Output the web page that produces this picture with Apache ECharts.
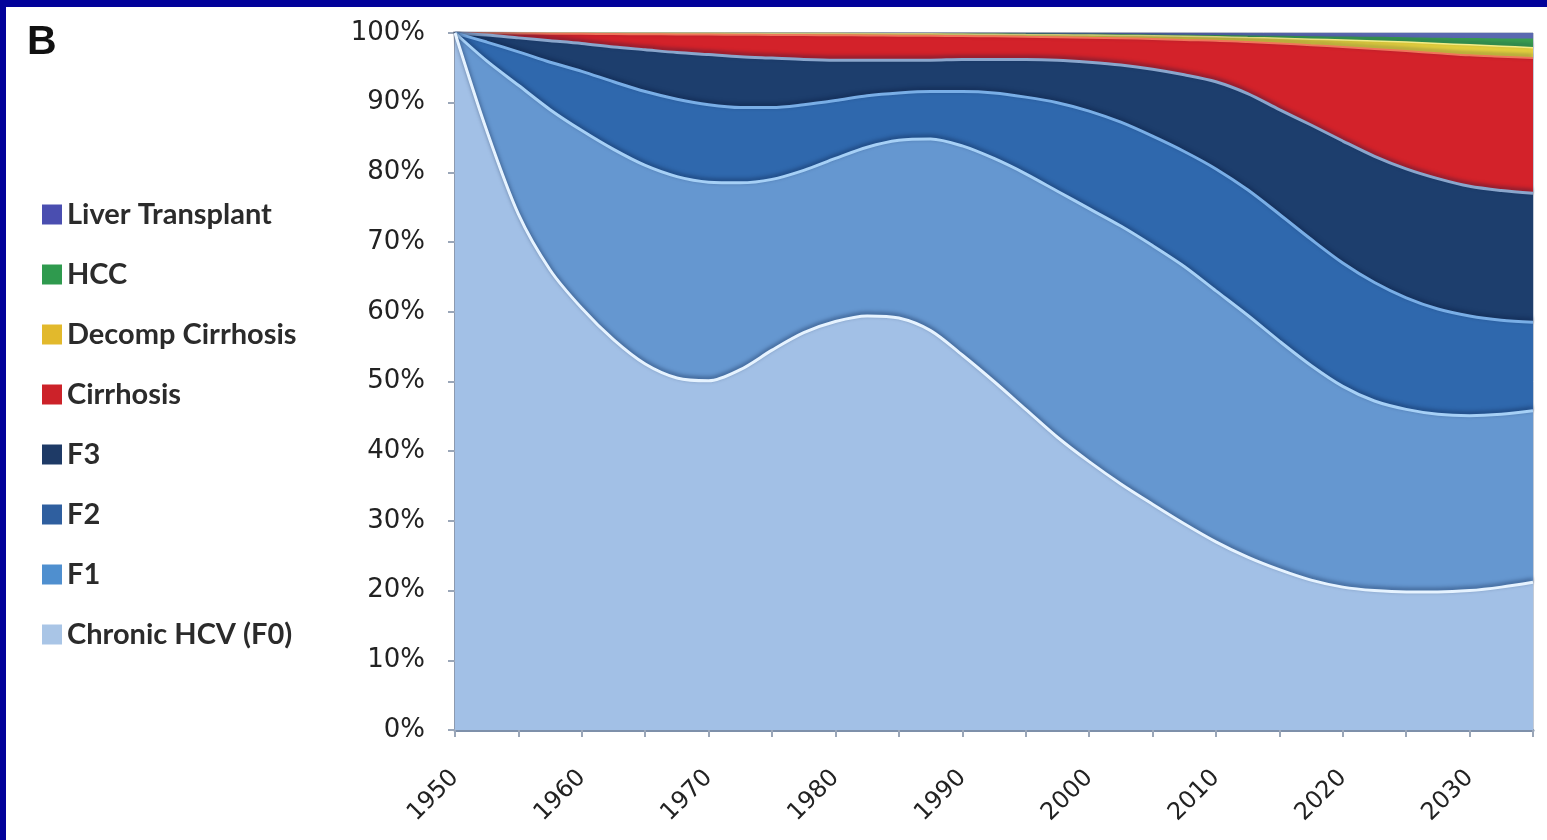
<!DOCTYPE html>
<html>
<head>
<meta charset="utf-8">
<title>HCV fibrosis stage distribution</title>
<script src="https://cdn.jsdelivr.net/npm/echarts@6/dist/echarts.min.js"></script>
<style>
  html, body { margin: 0; padding: 0; background: #ffffff; }
  #chart { width: 1547px; height: 840px; }
</style>
</head>
<body>
<div id="chart"></div>
<script>
// Years on the horizontal axis (2.5-year steps; ticks every 5, labels every 10)
const years = ['1950', '1952.5', '1955', '1957.5', '1960', '1962.5', '1965', '1967.5',
               '1970', '1972.5', '1975', '1977.5', '1980', '1982.5', '1985', '1987.5',
               '1990', '1992.5', '1995', '1997.5', '2000', '2002.5', '2005', '2007.5',
               '2010', '2012.5', '2015', '2017.5', '2020', '2022.5', '2025', '2027.5',
               '2030', '2032.5', '2035'];

// Upper edge of each band in the 100% stack (cumulative share, %)
const topF0         = [100, 86, 74, 66, 60.5, 56, 52.5, 50.5, 50.1, 51.7, 54.5, 57, 58.6, 59.4, 59.1, 57.3, 53.8, 50,
                       46, 42, 38.5, 35.3, 32.4, 29.6, 27, 24.8, 23, 21.5, 20.5, 20, 19.8, 19.8, 20, 20.5, 21.2];
const topF1         = [100, 96, 92.5, 89, 86, 83.3, 81, 79.4, 78.6, 78.5, 79, 80.3, 82, 83.6, 84.6, 84.8, 83.8, 82,
                       79.8, 77.3, 74.8, 72.3, 69.5, 66.5, 63, 59.5, 55.8, 52.3, 49.3, 47.2, 46, 45.3, 45.1, 45.3, 45.8];
const topF2         = [100, 98.7, 97.3, 95.8, 94.5, 93, 91.6, 90.5, 89.7, 89.3, 89.3, 89.7, 90.3, 91, 91.4, 91.6, 91.6, 91.4,
                       90.8, 90, 88.8, 87.2, 85.2, 83, 80.5, 77.5, 74, 70.4, 67, 64.2, 62, 60.4, 59.4, 58.8, 58.5];
const topF3         = [100, 99.7, 99.3, 98.9, 98.5, 98, 97.6, 97.2, 96.9, 96.6, 96.4, 96.2, 96.1, 96.1, 96.1, 96.1, 96.2, 96.2,
                       96.2, 96.1, 95.8, 95.4, 94.8, 94, 93, 91.3, 89, 86.8, 84.5, 82.3, 80.5, 79.1, 78, 77.4, 77];
const topCirrhosis  = [100, 99.97, 99.93, 99.9, 99.88, 99.85, 99.82, 99.8, 99.78, 99.75, 99.72, 99.7, 99.68, 99.65, 99.62, 99.6, 99.57, 99.52,
                       99.45, 99.4, 99.32, 99.25, 99.15, 99, 98.9, 98.7, 98.5, 98.25, 98, 97.7, 97.4, 97.1, 96.8, 96.6, 96.4];
const topDecomp     = [100, 100, 100, 100, 100, 100, 100, 100, 100, 99.98, 99.95, 99.95, 99.95, 99.92, 99.9, 99.88, 99.85, 99.82,
                       99.78, 99.75, 99.7, 99.65, 99.6, 99.52, 99.45, 99.35, 99.25, 99.12, 99, 98.85, 98.7, 98.5, 98.3, 98.1, 97.9];
const topHCC        = [100, 100, 100, 100, 100, 100, 100, 100, 100, 100, 100, 100, 100, 100, 100, 100, 99.95, 99.95,
                       99.92, 99.9, 99.88, 99.85, 99.8, 99.75, 99.7, 99.65, 99.6, 99.55, 99.5, 99.45, 99.4, 99.32, 99.28, 99.22, 99.2];
const topTransplant = years.map(() => 100);

// Y axis tick labels
const yTicks = [0, 10, 20, 30, 40, 50, 60, 70, 80, 90, 100];

// Drawn from the top band downwards so each lower band paints over the one above
const bands = [
  { name: 'Liver Transplant', data: topTransplant, fill: '#5a68b0', key: '#4a4eb0', edge: null,      w: 0 },
  { name: 'HCC',              data: topHCC,        fill: '#3a9e50', key: '#2f9a4e', edge: null,      w: 0 },
  { name: 'Decomp Cirrhosis', data: topDecomp,     fill: '#e6d23e', key: '#e2b92c', edge: '#f4ec86', w: 1.5 },
  { name: 'Cirrhosis',        data: topCirrhosis,  fill: '#d3222a', key: '#cc2229', edge: '#f0745a', w: 2 },
  { name: 'F3',               data: topF3,         fill: '#1d3e6d', key: '#1e3a66', edge: '#8aa6cc', w: 3 },
  { name: 'F2',               data: topF2,         fill: '#2f68ad', key: '#2f5f9f', edge: '#79aee6', w: 3 },
  { name: 'F1',               data: topF1,         fill: '#6597d0', key: '#4f8fcf', edge: '#a6d0f6', w: 3 },
  { name: 'Chronic HCV (F0)', data: topF0,         fill: '#a2c0e6', key: '#a9c5e6', edge: '#e6f3ff', w: 3 }
];

const series = bands.map((b, i) => ({
  name: b.name,
  type: 'line',
  data: b.data,
  smooth: 0.3,
  symbol: 'none',
  itemStyle: { color: b.key },
  areaStyle: { color: b.fill, opacity: 1, origin: 'start' },
  // light bevel along the top of the band with a dark rim just above it
  lineStyle: b.edge ? {
    color: b.edge, width: b.w,
    shadowColor: 'rgba(8, 24, 60, 0.55)', shadowBlur: 4, shadowOffsetY: -2
  } : { width: 0 },
  z: 2 + i * 0.01
}));

const chart = echarts.init(document.getElementById('chart'), null, { renderer: 'canvas' });
chart.setOption({
  animation: false,
  backgroundColor: '#ffffff',
  graphic: [
    { type: 'rect', shape: { x: 0, y: 0, width: 1547, height: 7 }, style: { fill: '#02029a' }, z: 100 },
    { type: 'rect', shape: { x: 0, y: 0, width: 6, height: 840 }, style: { fill: '#02029a' }, z: 100 },
    { type: 'text', left: 27, top: 22,
      style: { text: 'B', font: 'bold 41px "Liberation Sans", Arial, sans-serif', fill: '#111111' } }
  ],
  legend: {
    orient: 'vertical',
    left: 37,
    top: 195,
    itemWidth: 20,
    itemHeight: 20,
    itemGap: 31,
    icon: 'rect',
    selectedMode: false,
    data: bands.map(b => ({ name: b.name, itemStyle: { color: b.key } })),
    textStyle: {
      fontFamily: 'Lato, "Liberation Sans", sans-serif',
      fontWeight: 'bold',
      fontSize: 29,
      color: '#2b2b2b'
    }
  },
  grid: {
    left: 455, right: 14, top: 33, bottom: 110, containLabel: false,
    show: true, borderColor: '#8a98ae', borderWidth: 1, backgroundColor: 'transparent'
  },
  xAxis: {
    type: 'category',
    data: years,
    boundaryGap: false,
    splitLine: { show: false },
    axisLine: { show: true, lineStyle: { color: '#7e90aa', width: 3 } },
    axisTick: {
      show: true,
      interval: (idx, val) => Number(val) % 5 === 0,
      length: 7,
      lineStyle: { color: '#9aa6b8', width: 2 }
    },
    axisLabel: {
      rotate: 45,
      margin: 44,
      interval: (idx, val) => Number(val) % 10 === 0,
      hideOverlap: false,
      fontFamily: '"DejaVu Sans", sans-serif',
      fontSize: 24,
      color: '#222222'
    }
  },
  yAxis: {
    type: 'value',
    min: yTicks[0],
    max: yTicks[yTicks.length - 1],
    interval: yTicks[1] - yTicks[0],
    splitLine: { show: false },
    axisLine: { show: true, lineStyle: { color: '#8c9ab0', width: 2 } },
    axisTick: { show: true, length: 7, lineStyle: { color: '#9aa6b8', width: 2 } },
    axisLabel: {
      margin: 30,
      formatter: '{value}%',
      fontFamily: '"DejaVu Sans", sans-serif',
      fontSize: 26,
      color: '#222222'
    }
  },
  series: series
});
</script>
</body>
</html>
